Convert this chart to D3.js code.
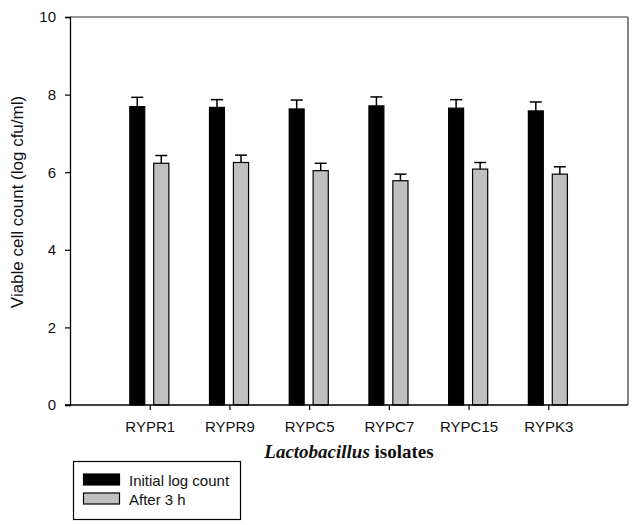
<!DOCTYPE html>
<html>
<head>
<meta charset="utf-8">
<script src="https://cdn.jsdelivr.net/npm/d3@7"></script>
<style>
  html, body { margin: 0; padding: 0; background: #fff; }
  svg { display: block; }
</style>
</head>
<body>
<svg id="chart" width="634" height="525"></svg>
<script>
// ---- data ----
const categories = ["RYPR1", "RYPR9", "RYPC5", "RYPC7", "RYPC15", "RYPK3"];
const initialCount = [7.69, 7.67, 7.63, 7.71, 7.65, 7.58];
const initialErr   = [0.24, 0.20, 0.23, 0.23, 0.22, 0.23];
const after3h      = [6.23, 6.25, 6.04, 5.78, 6.08, 5.95];
const after3hErr   = [0.20, 0.19, 0.19, 0.17, 0.17, 0.19];
const yTicks = [0, 2, 4, 6, 8, 10];
const seriesNames = ["Initial log count", "After 3 h"];
const seriesColors = ["#000000", "#c0c0c0"];

(function () {
// ---- layout ----
const svg = d3.select("#chart");
const pL = 70, pR = 628, pT = 17, pB = 405;

const x = d3.scaleLinear().domain([0, categories.length + 1]).range([pL, pR]);
const y = d3.scaleLinear().domain([0, 10]).range([pB, pT]);

// bar offsets (in category units) relative to the category center
const series = [
  { values: initialCount, errs: initialErr, x0: -0.25, x1: -0.0625, color: seriesColors[0] },
  { values: after3h, errs: after3hErr, x0: 0.05, x1: 0.24, color: seriesColors[1] }
];

// frame (top & right)
svg.append("line").attr("x1", pL).attr("x2", pR).attr("y1", pT).attr("y2", pT)
  .attr("stroke", "#333").attr("stroke-width", 1.2);
svg.append("line").attr("x1", pR).attr("x2", pR).attr("y1", pT).attr("y2", pB)
  .attr("stroke", "#333").attr("stroke-width", 1.2);

// bars + error bars
series.forEach(s => {
  const g = svg.append("g");
  s.values.forEach((v, i) => {
    const c = i + 1;
    const xa = x(c + s.x0), xb = x(c + s.x1);
    g.append("rect")
      .attr("x", xa).attr("y", y(v))
      .attr("width", xb - xa).attr("height", y(0) - y(v))
      .attr("fill", s.color).attr("stroke", "#000").attr("stroke-width", 1.2);
    const xm = (xa + xb) / 2;
    const yt = y(v + s.errs[i]);
    g.append("line").attr("x1", xm).attr("x2", xm).attr("y1", y(v)).attr("y2", yt)
      .attr("stroke", "#000").attr("stroke-width", 1.5);
    g.append("line").attr("x1", xm - 6).attr("x2", xm + 6).attr("y1", yt).attr("y2", yt)
      .attr("stroke", "#000").attr("stroke-width", 1.5);
  });
});

// y axis
const yAxis = d3.axisLeft(y).tickValues(yTicks).tickSize(5).tickPadding(9).tickFormat(d3.format("d"));
const gy = svg.append("g").attr("transform", `translate(${pL},0)`).call(yAxis);
gy.select(".domain").attr("stroke", "#000").attr("stroke-width", 1.3);
gy.selectAll(".tick line").attr("stroke", "#000").attr("stroke-width", 1.2);
gy.selectAll(".tick text").attr("font-family", "Arial, 'Liberation Sans', sans-serif")
  .attr("font-size", 15).attr("fill", "#111");

// x axis
const xAxis = d3.axisBottom(x).tickValues(categories.map((d, i) => i + 1))
  .tickFormat((d) => categories[d - 1]).tickSize(5).tickPadding(11).tickSizeOuter(0);
const gx = svg.append("g").attr("transform", `translate(0,${pB})`).call(xAxis);
gx.select(".domain").attr("stroke", "#000").attr("stroke-width", 1.3)
  .attr("d", `M${pL - 5},0H${pR}`);
gx.selectAll(".tick line").attr("stroke", "#000").attr("stroke-width", 1.2);
gx.selectAll(".tick text").attr("font-family", "Arial, 'Liberation Sans', sans-serif")
  .attr("font-size", 15).attr("fill", "#111");

// y title
svg.append("text")
  .attr("transform", `translate(23,202) rotate(-90)`)
  .attr("text-anchor", "middle")
  .attr("font-family", "Arial, 'Liberation Sans', sans-serif")
  .attr("font-size", 17).attr("fill", "#111")
  .text("Viable cell count (log cfu/ml)");

// x title
const xt = svg.append("text")
  .attr("x", 349).attr("y", 458)
  .attr("text-anchor", "middle")
  .attr("font-family", "'Times New Roman', 'Liberation Serif', serif")
  .attr("font-weight", "bold")
  .attr("font-size", 19).attr("fill", "#111");
xt.append("tspan").attr("font-style", "italic").text("Lactobacillus");
xt.append("tspan").text(" isolates");

// legend
const lg = svg.append("g");
lg.append("rect").attr("x", 73.5).attr("y", 461.5).attr("width", 167).attr("height", 58)
  .attr("fill", "#fff").attr("stroke", "#000").attr("stroke-width", 1.2);
seriesNames.forEach((name, i) => {
  const yy = 474 + i * 19;
  lg.append("rect").attr("x", 83.5).attr("y", yy).attr("width", 36).attr("height", 11)
    .attr("fill", seriesColors[i]).attr("stroke", "#000").attr("stroke-width", 1.2);
  lg.append("text").attr("x", 129).attr("y", yy + 12)
    .attr("font-family", "Arial, 'Liberation Sans', sans-serif")
    .attr("font-size", 15).attr("fill", "#111").text(name);
});
})();
</script>
</body>
</html>
